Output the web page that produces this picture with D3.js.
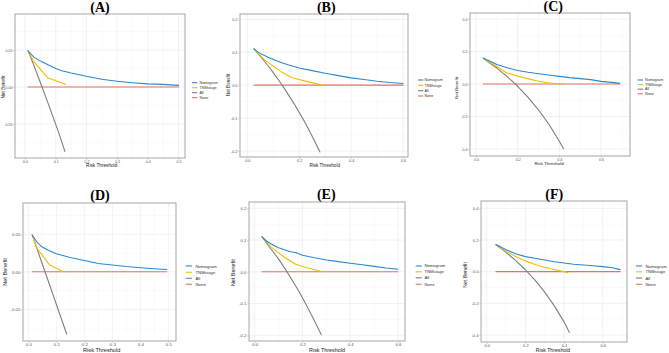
<!DOCTYPE html>
<html>
<head>
<meta charset="utf-8">
<script src="https://cdn.jsdelivr.net/npm/d3@7"></script>
<style>
body { margin: 0; background: #fff; }
svg { display: block; }
</style>
</head>
<body>
<div id="container"></div>
<script>
var width = 669,
    height = 353;

var seriesNames = ['Nomogram', 'TNMstage', 'All', 'None'];
var colors = ['#2b87d3', '#efc000', '#7f7f7f', '#e4716a'];

// tick values + labels
var xTicks5 = [0, 0.1, 0.2, 0.3, 0.4, 0.5],
    xLabels5 = ['0.0', '0.1', '0.2', '0.3', '0.4', '0.5'];
var xTicks6 = [0, 0.2, 0.4, 0.6],
    xLabels6 = ['0.0', '0.2', '0.4', '0.6'];
var yTicksS = [-0.05, 0, 0.05],
    yLabelsS = ['-0.05', '0.00', '0.05'];
var yTicksM = [-0.2, -0.1, 0, 0.1, 0.2],
    yLabelsM = ['-0.2', '-0.1', '0.0', '0.1', '0.2'];
var yTicksL = [-0.4, -0.2, 0, 0.2, 0.4],
    yLabelsL = ['-0.4', '-0.2', '0.0', '0.2', '0.4'];

// (A)
var nomA = [[0.01, 0.049], [0.02, 0.044], [0.03, 0.040], [0.05, 0.035], [0.07, 0.031], [0.09, 0.027], [0.1, 0.025], [0.12, 0.022], [0.15, 0.019], [0.2, 0.0145], [0.25, 0.0105], [0.3, 0.0078], [0.35, 0.0058], [0.4, 0.0042], [0.45, 0.0035], [0.5, 0.0022]];
var tnmA = [[0.01, 0.049], [0.027, 0.035], [0.074, 0.0126], [0.132, 0.0036]];
var allA = [[0.01, 0.049], [0.03, 0.028], [0.05, 0.006], [0.07, -0.016], [0.09, -0.039], [0.11, -0.062], [0.13, -0.087]];
var noneA = [[0.01, 0], [0.5, 0]];
// (B)
var nomB = [[0.026, 0.11], [0.04, 0.101], [0.06, 0.092], [0.08, 0.085], [0.1, 0.078], [0.13, 0.069], [0.16, 0.061], [0.2, 0.052], [0.25, 0.044], [0.3, 0.036], [0.35, 0.029], [0.4, 0.022], [0.45, 0.017], [0.5, 0.012], [0.55, 0.008], [0.6, 0.005]];
var tnmB = [[0.026, 0.11], [0.067, 0.076], [0.1, 0.058], [0.13, 0.041], [0.17, 0.023], [0.22, 0.013], [0.29, 0.0]];
var allB = [[0.026, 0.11], [0.05, 0.088], [0.08, 0.059], [0.1, 0.038], [0.13, 0.005], [0.15, -0.019], [0.18, -0.056], [0.2, -0.083], [0.22, -0.11], [0.25, -0.155], [0.28, -0.203]];
var noneB = [[0.026, 0], [0.6, 0]];
// (C)
var nomC = [[0.035, 0.159], [0.06, 0.145], [0.1, 0.12], [0.15, 0.1], [0.2, 0.083], [0.25, 0.072], [0.3, 0.063], [0.35, 0.055], [0.4, 0.047], [0.45, 0.039], [0.5, 0.033], [0.55, 0.027], [0.6, 0.016], [0.65, 0.01], [0.69, 0.004]];
var tnmC = [[0.035, 0.159], [0.09, 0.115], [0.144, 0.071], [0.2, 0.048], [0.248, 0.033], [0.3, 0.017], [0.35, 0.006], [0.4, 0.0], [0.41, -0.003]];
var allC = [[0.035, 0.159], [0.06, 0.133], [0.1, 0.098], [0.15, 0.045], [0.2, -0.014], [0.25, -0.082], [0.3, -0.159], [0.35, -0.248], [0.4, -0.352], [0.42, -0.399]];
var noneC = [[0.035, 0], [0.69, 0]];
// (D)
var nomD = [[0.014, 0.049], [0.03, 0.04], [0.05, 0.033], [0.07, 0.029], [0.1, 0.024], [0.15, 0.019], [0.2, 0.015], [0.25, 0.011], [0.3, 0.009], [0.35, 0.007], [0.4, 0.0055], [0.45, 0.004], [0.494, 0.003]];
var tnmD = [[0.014, 0.049], [0.03, 0.032], [0.075, 0.0095], [0.125, 0.0]];
var allD = [[0.014, 0.049], [0.03, 0.032], [0.05, 0.0104], [0.07, -0.011], [0.09, -0.0325], [0.11, -0.054], [0.137, -0.083]];
var noneD = [[0.014, 0], [0.494, 0]];
// (E)
var nomE = [[0.031, 0.11], [0.05, 0.097], [0.07, 0.087], [0.1, 0.076], [0.13, 0.068], [0.15, 0.063], [0.17, 0.061], [0.2, 0.052], [0.25, 0.044], [0.3, 0.037], [0.35, 0.032], [0.4, 0.027], [0.45, 0.022], [0.5, 0.017], [0.55, 0.012], [0.6, 0.008]];
var tnmE = [[0.031, 0.11], [0.07, 0.077], [0.12, 0.048], [0.171, 0.024], [0.22, 0.013], [0.28, 0.001]];
var allE = [[0.031, 0.11], [0.05, 0.09], [0.08, 0.06], [0.1, 0.04], [0.13, 0.006], [0.15, -0.018], [0.18, -0.055], [0.2, -0.082], [0.22, -0.11], [0.25, -0.154], [0.279, -0.198]];
var noneE = [[0.031, 0], [0.6, 0]];
// (F)
var nomF = [[0.048, 0.17], [0.07, 0.158], [0.1, 0.138], [0.15, 0.113], [0.2, 0.095], [0.25, 0.085], [0.3, 0.074], [0.35, 0.063], [0.4, 0.055], [0.45, 0.047], [0.5, 0.042], [0.55, 0.037], [0.6, 0.032], [0.65, 0.025], [0.69, 0.013]];
var tnmF = [[0.048, 0.17], [0.1, 0.128], [0.15, 0.096], [0.2, 0.068], [0.25, 0.045], [0.28, 0.034], [0.33, 0.018], [0.38, 0.005], [0.42, -0.006]];
var allF = [[0.048, 0.17], [0.1, 0.122], [0.15, 0.07], [0.2, 0.012], [0.25, -0.054], [0.3, -0.129], [0.35, -0.216], [0.4, -0.317], [0.427, -0.383]];
var noneF = [[0.048, 0], [0.69, 0]];

// layout of each sub-figure (absolute px)
var panels = [
    { title: '(A)', clip: [0, 0, 223, 176], box: [15, 14, 185, 158], xCal: [0, 25, 0.5, 178.5], yCal: [0.05, 50, -0.05, 124],
      xt: xTicks5, xl: xLabels5, yt: yTicksS, yl: yLabelsS, t: [100, 12], xLab: [101.7, 167], yLab: [3, 87],
      leg: { x: 192, tx: 199.5, ys: [82.7, 87.7, 92.7, 97.7] }, fs: [3.6, 4.7, 3.7],
      series: [noneA, allA, tnmA, nomA] },
    { title: '(B)', clip: [223, 0, 223, 176], box: [240, 14, 408, 157], xCal: [0, 247.3, 0.6, 403], yCal: [0.2, 19.3, -0.2, 151],
      xt: xTicks6, xl: xLabels6, yt: yTicksM, yl: yLabelsM, t: [326.3, 12], xLab: [324.7, 166.8], yLab: [228, 85],
      leg: { x: 418, tx: 424.5, ys: [80, 85.3, 90.7, 96] }, fs: [3.8, 4.6, 3.7],
      series: [noneB, allB, tnmB, nomB] },
    { title: '(C)', clip: [446, 0, 223, 176], box: [470, 13, 630, 156], xCal: [0, 476, 0.6, 601], yCal: [0.4, 19, -0.4, 149],
      xt: xTicks6, xl: xLabels6, yt: yTicksL, yl: yLabelsL, t: [553.3, 11], xLab: [549, 165], yLab: [456, 88],
      leg: { x: 637.7, tx: 645, ys: [80, 84.6, 89.2, 93.8] }, fs: [3.6, 4.4, 3.7],
      series: [noneC, allC, tnmC, nomC] },
    { title: '(D)', clip: [0, 176, 223, 177], box: [23, 203, 176, 341], xCal: [0, 28.3, 0.5, 168.3], yCal: [0.05, 234.3, -0.05, 309.3],
      xt: xTicks5, xl: xLabels5, yt: yTicksS, yl: yLabelsS, t: [100, 200], xLab: [101.7, 352], yLab: [5, 272],
      leg: { x: 185.7, tx: 195.5, ys: [266, 272.3, 278.3, 284.3] }, fs: [4.3, 5.6, 4.3],
      series: [noneD, allD, tnmD, nomD] },
    { title: '(E)', clip: [223, 176, 224, 177], box: [249, 202, 405, 341], xCal: [0, 254.7, 0.6, 398], yCal: [0.2, 208.3, -0.2, 335.3],
      xt: xTicks6, xl: xLabels6, yt: yTicksM, yl: yLabelsM, t: [326.3, 198.5], xLab: [327, 352], yLab: [233, 272.7],
      leg: { x: 415.7, tx: 424.5, ys: [266, 271.8, 277.8, 284.3] }, fs: [4.2, 5.4, 4.2],
      series: [noneE, allE, tnmE, nomE] },
    { title: '(F)', clip: [446, 176, 223, 177], box: [481, 201, 627, 342], xCal: [0, 486.7, 0.6, 602.7], yCal: [0.4, 208.3, -0.4, 335],
      xt: xTicks6, xl: xLabels6, yt: yTicksL, yl: yLabelsL, t: [554.3, 198.5], xLab: [553, 352], yLab: [465, 275],
      leg: { x: 636, tx: 645.5, ys: [266, 271.8, 278, 284.3] }, fs: [4.0, 5.2, 4.3],
      series: [noneF, allF, tnmF, nomF] }
];

var svg = d3.select('#container')
    .append('svg')
    .attr('width', width)
    .attr('height', height)
    .style('font-family', '"Liberation Sans", Arial, sans-serif');

svg.append('rect').attr('width', width).attr('height', height).attr('fill', '#fff');

var defs = svg.append('defs');

panels.forEach(function(p, pi) {
    defs.append('clipPath').attr('id', 'clip' + pi)
        .append('rect')
        .attr('x', p.clip[0]).attr('y', p.clip[1])
        .attr('width', p.clip[2]).attr('height', p.clip[3]);

    var g = svg.append('g').attr('clip-path', 'url(#clip' + pi + ')');
    var b = p.box;

    var x = d3.scaleLinear().domain([p.xCal[0], p.xCal[2]]).range([p.xCal[1], p.xCal[3]]);
    var y = d3.scaleLinear().domain([p.yCal[0], p.yCal[2]]).range([p.yCal[1], p.yCal[3]]);

    // minor grid = midpoints between breaks (plus one each side if inside panel)
    function minors(t, sc, lo, hi) {
        var step = t[1] - t[0], out = [];
        for (var i = -1; i < t.length; i++) {
            var v = t[0] + step * (i + 0.5);
            var px = sc(v);
            if (px > Math.min(lo, hi) && px < Math.max(lo, hi)) out.push(v);
        }
        return out;
    }

    var grid = g.append('g');
    grid.selectAll('.mx').data(minors(p.xt, x, b[0], b[2])).enter().append('line')
        .attr('x1', function(d) { return x(d); }).attr('x2', function(d) { return x(d); })
        .attr('y1', b[1]).attr('y2', b[3])
        .attr('stroke', '#f3f3f3').attr('stroke-width', 0.4);
    grid.selectAll('.my').data(minors(p.yt, y, b[3], b[1])).enter().append('line')
        .attr('y1', function(d) { return y(d); }).attr('y2', function(d) { return y(d); })
        .attr('x1', b[0]).attr('x2', b[2])
        .attr('stroke', '#f3f3f3').attr('stroke-width', 0.4);
    grid.selectAll('.gx').data(p.xt).enter().append('line')
        .attr('x1', function(d) { return x(d); }).attr('x2', function(d) { return x(d); })
        .attr('y1', b[1]).attr('y2', b[3])
        .attr('stroke', '#e8e8e8').attr('stroke-width', 0.6);
    grid.selectAll('.gy').data(p.yt).enter().append('line')
        .attr('y1', function(d) { return y(d); }).attr('y2', function(d) { return y(d); })
        .attr('x1', b[0]).attr('x2', b[2])
        .attr('stroke', '#e8e8e8').attr('stroke-width', 0.6);

    // curves
    var line = d3.line()
        .x(function(d) { return x(d[0]); })
        .y(function(d) { return y(d[1]); });
    var order = [3, 2, 1, 0]; // None, All, TNMstage, Nomogram
    p.series.forEach(function(s, i) {
        g.append('path')
            .attr('d', line(s))
            .attr('fill', 'none')
            .attr('stroke', colors[order[i]])
            .attr('stroke-width', 1.1)
            .attr('stroke-linejoin', 'round')
            .attr('stroke-linecap', 'round');
    });

    // panel border
    g.append('rect')
        .attr('x', b[0]).attr('y', b[1])
        .attr('width', b[2] - b[0]).attr('height', b[3] - b[1])
        .attr('fill', 'none').attr('stroke', '#a6a6a6').attr('stroke-width', 1);

    // axes
    var xAxis = d3.axisBottom(x).tickValues(p.xt).tickSize(1.3).tickPadding(0.6)
        .tickFormat(function(d, i) { return p.xl[i]; });
    var yAxis = d3.axisLeft(y).tickValues(p.yt).tickSize(1.3).tickPadding(0.8)
        .tickFormat(function(d, i) { return p.yl[i]; });

    var gx = g.append('g').attr('transform', 'translate(0,' + (b[3] + 0.5) + ')').call(xAxis);
    var gy = g.append('g').attr('transform', 'translate(' + (b[0] - 0.5) + ',0)').call(yAxis);
    [gx, gy].forEach(function(a) {
        a.select('.domain').remove();
        a.selectAll('line').attr('stroke', '#999').attr('stroke-width', 0.5);
        a.selectAll('text').attr('fill', '#555')
            .style('font-size', p.fs[0] + 'px')
            .style('font-family', '"Liberation Sans", Arial, sans-serif');
    });

    // axis titles
    g.append('text')
        .attr('x', p.xLab[0]).attr('y', p.xLab[1])
        .attr('text-anchor', 'middle')
        .attr('fill', '#222')
        .style('font-size', p.fs[1] + 'px')
        .text('Risk Threshold');
    g.append('text')
        .attr('transform', 'translate(' + p.yLab[0] + ',' + p.yLab[1] + ') rotate(-90)')
        .attr('text-anchor', 'middle')
        .attr('dy', '0.35em')
        .attr('fill', '#222')
        .style('font-size', p.fs[1] + 'px')
        .text('Net Benefit');

    // legend
    var keyLen = p.fs[2] * 1.45;
    seriesNames.forEach(function(name, i) {
        var ly = p.leg.ys[i];
        g.append('line')
            .attr('x1', p.leg.x).attr('x2', p.leg.x + keyLen)
            .attr('y1', ly).attr('y2', ly)
            .attr('stroke', colors[i]).attr('stroke-width', 1.1);
        g.append('text')
            .attr('x', p.leg.tx).attr('y', ly)
            .attr('dy', '0.35em')
            .attr('fill', '#333')
            .style('font-size', p.fs[2] + 'px')
            .text(name);
    });

    // title
    g.append('text')
        .attr('x', p.t[0]).attr('y', p.t[1])
        .attr('text-anchor', 'middle')
        .style('font-family', '"Liberation Serif", "Times New Roman", serif')
        .style('font-weight', 'bold')
        .style('font-size', '14px')
        .text(p.title);
});
</script>
</body>
</html>
